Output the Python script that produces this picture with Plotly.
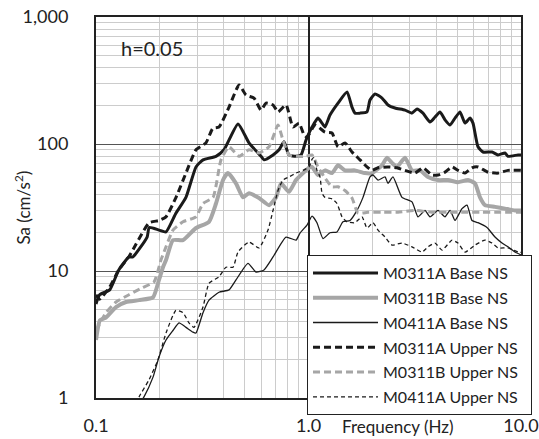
import plotly.graph_objects as go

# ---------------- data ----------------
f_0311A_base = [0.100, 0.104, 0.116, 0.128, 0.143, 0.149, 0.174, 0.178, 0.198, 0.2135, 0.238, 0.265,
                0.2955, 0.319, 0.367, 0.400, 0.466, 0.525, 0.598, 0.6175, 0.681, 0.727, 0.767, 0.809,
                0.8735, 0.922, 0.973, 1.0055, 1.039, 1.108, 1.158, 1.196, 1.262, 1.377, 1.518, 1.602,
                1.655, 1.748, 1.885, 1.947, 2.055, 2.218, 2.366, 2.553, 2.845, 3.069, 3.24, 3.458,
                3.731, 3.939, 4.158, 4.39, 4.634, 4.892, 5.164, 5.452, 5.754, 5.944, 6.275, 6.625,
                7.304, 7.794, 8.408, 8.685, 9.681, 10.0]
sa_0311A_base = [5.5, 6.5, 7.1, 10.2, 12.9, 12.9, 18.5, 22, 21, 20.3, 28.6, 38,
                 66, 75, 80, 90, 144, 102, 80, 75, 82, 90, 104, 82,
                 80, 82, 107, 122, 136, 160, 146, 136, 169, 210, 257, 195,
                 175, 175, 179, 222, 248, 230, 203, 192, 185, 175, 189, 175,
                 149, 163, 179, 155, 141, 160, 179, 146, 160, 146, 95, 86.5,
                 86.5, 82, 85, 80, 82, 82]

f_0311B_base = [0.100, 0.1044, 0.1114, 0.1242, 0.1384, 0.1594, 0.1855, 0.1979, 0.2066, 0.2135, 0.2303,
                0.2567, 0.2955, 0.3402, 0.367, 0.396, 0.418, 0.4558, 0.4918, 0.5248, 0.585, 0.6519,
                0.7033, 0.7424, 0.8094, 0.8735, 0.9421, 1.0055, 1.039, 1.108, 1.196, 1.29, 1.377,
                1.485, 1.655, 1.845, 1.99, 2.218, 2.341, 2.471, 2.609, 2.845, 3.069, 3.347, 3.651,
                4.069, 4.535, 5.053, 5.632, 6.074, 6.413, 6.769, 7.545, 8.408, 9.371, 10.0]
sa_0311B_base = [2.86, 4.1, 4.3, 5.2, 5.7, 5.9, 6.2, 8.5, 10.7, 12.2, 17.5,
                 17.5, 21.8, 24.4, 34, 52, 59, 49, 38, 41, 37.6, 33,
                 38, 49, 42, 52, 59, 65, 66, 57, 62, 59, 68,
                 62, 62, 59, 59, 68, 78, 71, 66, 78, 62, 62, 55,
                 52, 52, 50, 52, 49, 38, 33, 32, 31, 30, 30]

f_0411A_base = [0.160, 0.1682, 0.1855, 0.1979, 0.2135, 0.2303, 0.2458, 0.2651, 0.2861, 0.2955, 0.3188,
                0.3402, 0.3792, 0.4226, 0.4558, 0.5191, 0.5662, 0.6175, 0.6808, 0.7837, 0.8735, 0.912,
                0.9838, 1.039, 1.096, 1.17, 1.262, 1.362, 1.453, 1.568, 1.691, 1.805, 1.947, 2.011,
                2.124, 2.291, 2.366, 2.498, 2.754, 3.069, 3.275, 3.533, 3.731, 4.069, 4.39, 4.634,
                4.892, 5.277, 5.571, 5.88, 6.275, 6.918, 7.545, 8.139, 8.685, 9.371, 10.0]
sa_0411A_base = [0.9, 1.02, 1.46, 2.1, 2.86, 3.4, 3.9, 3.6, 3.3, 3.25, 4.7,
                 5.9, 6.8, 7.1, 8.5, 11.5, 9.8, 10.2, 12.9, 18.5, 17.5, 19.9,
                 23, 27, 24, 18, 20, 20.3, 24.4, 25, 30, 38, 55, 57,
                 52, 55, 49, 55, 38, 35, 26.7, 30, 26.7, 30, 26.7, 30,
                 25, 31, 33, 25, 24, 22, 18.5, 16.6, 15.5, 14.1, 13.4]

f_0311A_upper = [0.100, 0.104, 0.116, 0.128, 0.143, 0.1776, 0.198, 0.2135, 0.238, 0.265, 0.2955, 0.329,
                 0.355, 0.379, 0.4226, 0.471, 0.508, 0.554, 0.598, 0.631, 0.681, 0.719, 0.784, 0.8455,
                 0.9024, 0.9524, 0.984, 1.073, 1.196, 1.29, 1.377, 1.485, 1.602, 1.748, 1.885, 1.99,
                 2.124, 2.366, 2.609, 2.845, 3.171, 3.458, 3.813, 4.069, 4.39, 4.736, 5.053, 5.452,
                 5.88, 6.275, 6.994, 7.794, 8.685, 10.0]
sa_0311A_upper = [6.5, 6.0, 7.5, 10.2, 13, 23.9, 25, 26.7, 38, 59, 90, 102,
                  133, 136, 195, 291, 243, 230, 185, 210, 203, 179, 203, 136,
                  146, 118, 113, 141, 124, 122, 95, 102, 86.5, 75, 66, 62,
                  65, 66, 65, 62, 59, 65, 57, 57, 60, 66, 62, 59,
                  65, 66, 60, 59, 62, 62]

f_0311B_upper = [0.100, 0.1114, 0.1242, 0.143, 0.1655, 0.1875, 0.2022, 0.2135, 0.2303, 0.2567, 0.2955,
                 0.3188, 0.3553, 0.3875, 0.4226, 0.471, 0.5248, 0.585, 0.6519, 0.7187, 0.7586, 0.8094,
                 0.8735, 0.9732, 1.039, 1.108, 1.196, 1.29, 1.377, 1.485, 1.602, 1.71, 1.905, 2.218,
                 2.637, 3.171, 3.813, 4.535, 5.452, 6.553, 7.794, 10.0]
sa_0311B_upper = [3.4, 4.7, 5.7, 6.5, 7.4, 8.2, 12.2, 15.5, 21, 24.4, 26.7,
                  34, 38, 75, 95, 80, 90, 85, 95, 141, 107, 82,
                  80, 80, 82, 66, 54, 46, 46, 43, 37.6, 28.6, 29, 29,
                  29, 30, 29, 29, 29, 29, 29, 29]

f_0411A_upper = [0.155, 0.1594, 0.1776, 0.1958, 0.2135, 0.2379, 0.2567, 0.2739, 0.2892, 0.3188, 0.3402,
                 0.3792, 0.409, 0.4413, 0.4658, 0.5248, 0.585, 0.6448, 0.6808, 0.7187, 0.7586, 0.8094,
                 0.8735, 0.9421, 1.0055, 1.04, 1.06, 1.096, 1.133, 1.158, 1.196, 1.29, 1.362, 1.438,
                 1.518, 1.655, 1.786, 1.885, 2.011, 2.124, 2.291, 2.471, 2.754, 3.069, 3.42, 3.651,
                 3.939, 4.249, 4.736, 5.053, 5.452, 6.074, 6.769, 7.304, 7.794, 8.685, 9.681, 10.0]
sa_0411A_upper = [0.9, 1.02, 1.39, 2.0, 3.25, 4.9, 4.7, 3.9, 3.6, 5.2, 8.0,
                  9.0, 10.7, 10.7, 14.1, 16.9, 15.2, 21, 30, 43, 52, 55,
                  59, 62, 66, 76, 78, 62, 55, 41, 38, 37, 34, 26.7,
                  24.4, 24, 26.7, 21.8, 24, 21, 18.5, 16, 16.6, 15.5, 14.1, 15.5,
                  16.6, 14.6, 17.5, 16.6, 14.1, 16, 17.5, 16.6, 15.2, 15.2, 14.1, 14]

x_tick_vals = [0.1, 1.0, 10.0]
x_tick_text = ["0.1", "1.0", "10.0"]
y_tick_vals = [1, 10, 100, 1000]
y_tick_text = ["1", "10", "100", "1,000"]

# ---------------- figure ----------------
FONT = "Lato"
BLACK = "#1a1a1a"
GRAY = "#a6a6a6"
TXT = "#222222"

series = [
    ("M0311A Base NS", f_0311A_base, sa_0311A_base, BLACK, 3.0, "solid"),
    ("M0311B Base NS", f_0311B_base, sa_0311B_base, GRAY, 4.0, "solid"),
    ("M0411A Base NS", f_0411A_base, sa_0411A_base, BLACK, 1.3, "solid"),
    ("M0311A Upper NS", f_0311A_upper, sa_0311A_upper, BLACK, 3.0, "7px,4px"),
    ("M0311B Upper NS", f_0311B_upper, sa_0311B_upper, GRAY, 3.0, "7px,4px"),
    ("M0411A Upper NS", f_0411A_upper, sa_0411A_upper, BLACK, 1.3, "4px,3px"),
]

fig = go.Figure()
for i, (name, fx, sy, col, w, dash) in enumerate(series):
    fig.add_trace(go.Scatter(
        x=fx, y=sy, mode="lines", name=name + "\u00a0\u00a0", legendgroup=f"g{i}",
        line=dict(color=col, width=w, dash=dash, shape="spline", smoothing=0.5),
    ))

minor_x = [m * 10.0 ** e for e in (-1, 0) for m in range(2, 10)]
minor_y = [m * 10.0 ** e for e in (0, 1, 2) for m in range(2, 10)]

fig.update_layout(
    width=539, height=439,
    margin=dict(l=96, r=18, t=17, b=41, autoexpand=False),
    paper_bgcolor="white", plot_bgcolor="white",
    font=dict(family=FONT, size=18, color=TXT),
    showlegend=True,
    legend=dict(
        x=0.4965, y=0.3753, xanchor="left", yanchor="top",
        bgcolor="white", bordercolor=TXT, borderwidth=1,
        font=dict(family=FONT, size=16, color=TXT),
        tracegroupgap=1, itemwidth=65,
    ),
    xaxis=dict(
        type="log", range=[-1, 1], automargin=False,
        tickmode="array", tickvals=x_tick_vals, ticktext=x_tick_text,
        ticks="outside", ticklen=10, tickcolor="rgba(0,0,0,0)",
        showgrid=True, gridcolor=TXT, gridwidth=1.5,
        showline=True, linecolor=TXT, linewidth=2, mirror=True,
        minor=dict(tickmode="array", tickvals=minor_x, showgrid=True,
                   gridcolor="#cccccc", gridwidth=1, ticks=""),
        zeroline=False,
    ),
    yaxis=dict(
        type="log", range=[0, 3], automargin=False,
        tickmode="array", tickvals=y_tick_vals, ticktext=y_tick_text,
        ticks="outside", ticklen=22, tickcolor="rgba(0,0,0,0)",
        showgrid=True, gridcolor="#555555", gridwidth=1.3,
        showline=True, linecolor=TXT, linewidth=2, mirror=True,
        minor=dict(tickmode="array", tickvals=minor_y, showgrid=True,
                   gridcolor="#cccccc", gridwidth=1, ticks=""),
        zeroline=False,
    ),
    annotations=[
        dict(text="h=0.05", xref="paper", yref="paper", x=0.055, y=0.919,
             xanchor="left", yanchor="middle", showarrow=False,
             font=dict(family=FONT, size=20, color=TXT)),
        dict(text="Frequency (Hz)", xref="paper", yref="paper", x=0.711, y=-0.076,
             xanchor="center", yanchor="middle", showarrow=False,
             font=dict(family=FONT, size=17, color=TXT)),
        dict(text="Sa (cm/s<sup>2</sup>)", xref="paper", yref="paper", x=-0.174, y=0.5,
             xanchor="center", yanchor="middle", showarrow=False, textangle=-90,
             font=dict(family=FONT, size=17, color=TXT)),
    ],
)

fig.write_html("out.html")
